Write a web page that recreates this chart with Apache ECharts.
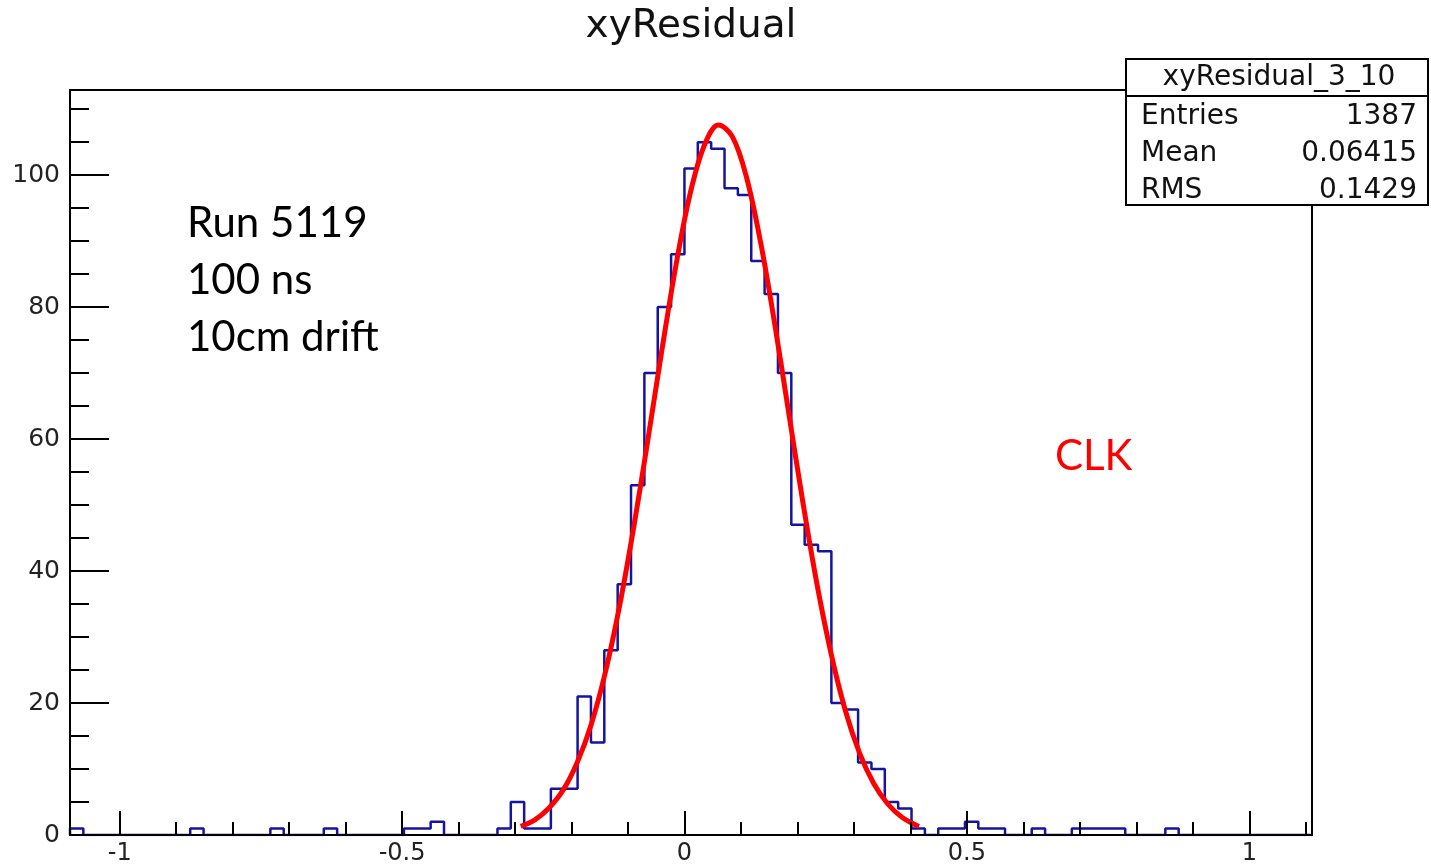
<!DOCTYPE html>
<html><head><meta charset="utf-8">
<script src="https://cdn.jsdelivr.net/npm/echarts@6/dist/echarts.min.js"></script>
<style>html,body{margin:0;padding:0;background:#fff}#c{width:1431px;height:867px}</style>
</head><body><div id="c"></div>
<script>
// ---- data ----
const xMin = -1.088, xMax = 1.111;
const yMin = 0, yMax = 112.9;
const binStart = -1.088;
const binWidth = 0.02365;
const counts = [
  1,0,0,0,0,0,0,0,0,1,
  0,0,0,0,0,1,0,0,0,1,
  0,0,0,0,0,1,1,2,0,0,
  0,0,1,5,1,1,7,7,21,14,
  28,38,53,70,80,88,101,105,104,98,
  97,87,82,70,47,44,43,20,19,11,
  10,5,4,1,0,1,1,2,1,1,
  0,0,1,0,0,1,1,1,1,0,
  0,0,1,0,0,0,0,0,0,0,
  0,0,0
];
const fitX = [-0.29,-0.265,-0.24,-0.215,-0.19,-0.165,-0.14,-0.115,-0.09,-0.065,-0.04,-0.015,0.01,0.035,0.06,0.085,0.11,0.135,0.16,0.185,0.21,0.235,0.26,0.285,0.31,0.335,0.36,0.385,0.415];
const fitY = [1.3,2.3,4.1,6.8,11.0,16.8,24.7,34.7,46.6,59.8,73.5,86.4,97.2,104.5,107.6,105.8,99.6,89.7,77.3,63.7,50.2,37.8,27.3,18.8,12.4,7.8,4.7,2.7,1.3];
const xMajorTicks = [-1,-0.5,0,0.5,1];
const xMinorTicks = [-1,-0.9,-0.8,-0.7,-0.6,-0.5,-0.4,-0.3,-0.2,-0.1,0,0.1,0.2,0.3,0.4,0.5,0.6,0.7,0.8,0.9,1,1.1];
const yMajorTicks = [0,20,40,60,80,100];
const yMinorTicks = [0,5,10,15,20,25,30,35,40,45,50,55,60,65,70,75,80,85,90,95,100,105,110];
const titleText = 'xyResidual';
const statTitle = 'xyResidual_3_10';
const statRows = [['Entries','1387'],['Mean','0.06415'],['RMS','0.1429']];
const noteLines = ['Run 5119','100 ns','10cm drift'];
const noteRed = 'CLK';

// ---- build ----
const histPts = [[binStart, 0]];
counts.forEach((c, i) => {
  const lo = binStart + i * binWidth, hi = lo + binWidth;
  histPts.push([lo, c], [hi, c]);
});
histPts.push([binStart + counts.length * binWidth, 0]);
const fitPts = fitX.map((x, i) => [x, fitY[i]]);

const ROOTFONT = 'DejaVu Sans';
const fmt = v => String(v);

const chart = echarts.init(document.getElementById('c'), null, {renderer: 'canvas'});
chart.setOption({
  animation: false,
  backgroundColor: '#fff',
  grid: {left: 70, right: 119, top: 90, bottom: 32, show: true, borderColor: '#000', borderWidth: 2, backgroundColor: 'transparent'},
  xAxis: [
    {type: 'value', min: xMin, max: xMax, position: 'bottom', z: 5,
     axisLine: {show: true, onZero: false, lineStyle: {color: '#000', width: 2}},
     axisTick: {show: true, inside: true, length: 24, customValues: xMajorTicks, lineStyle: {color: '#000', width: 2}},
     axisLabel: {show: true, customValues: xMajorTicks, formatter: fmt, fontFamily: ROOTFONT, fontSize: 24, color: '#222', margin: 7},
     splitLine: {show: false}},
    {type: 'value', min: xMin, max: xMax, position: 'bottom', z: 5,
     axisLine: {show: false, onZero: false},
     axisTick: {show: true, inside: true, length: 13, customValues: xMinorTicks, lineStyle: {color: '#000', width: 2}},
     axisLabel: {show: false},
     splitLine: {show: false}}
  ],
  yAxis: [
    {type: 'value', min: yMin, max: yMax, position: 'left', z: 5,
     axisLine: {show: true, onZero: false, lineStyle: {color: '#000', width: 2}},
     axisTick: {show: true, inside: true, length: 39, customValues: yMajorTicks, lineStyle: {color: '#000', width: 2}},
     axisLabel: {show: true, customValues: yMajorTicks, formatter: fmt, fontFamily: ROOTFONT, fontSize: 25, color: '#222', margin: 10},
     splitLine: {show: false}},
    {type: 'value', min: yMin, max: yMax, position: 'left', z: 5,
     axisLine: {show: false, onZero: false},
     axisTick: {show: true, inside: true, length: 19, customValues: yMinorTicks, lineStyle: {color: '#000', width: 2}},
     axisLabel: {show: false},
     splitLine: {show: false}}
  ],
  series: [
    {type: 'line', name: 'hist', xAxisIndex: 0, yAxisIndex: 0, data: histPts, symbol: 'none', showSymbol: false,
     clip: true, z: 2, lineStyle: {color: '#1414a0', width: 2.5}, emphasis: {disabled: true}},
    {type: 'line', name: 'fit', xAxisIndex: 0, yAxisIndex: 0, data: fitPts, symbol: 'none', showSymbol: false,
     smooth: 0.35, clip: true, z: 3, lineStyle: {color: '#ff0000', width: 5}, emphasis: {disabled: true}}
  ],
  graphic: [
    {type: 'text', x: 691, y: 27, z: 10, style: {text: titleText, font: '39px "DejaVu Sans"', fill: '#111', align: 'center', verticalAlign: 'middle'}},
    {type: 'rect', z: 10, shape: {x: 1126, y: 59, width: 302, height: 146}, style: {fill: '#fff', stroke: '#000', lineWidth: 2}},
    {type: 'line', z: 11, shape: {x1: 1126, y1: 96, x2: 1428, y2: 96}, style: {stroke: '#000', lineWidth: 2}},
    {type: 'text', x: 1279, y: 77.5, z: 12, style: {text: statTitle, font: '28px "DejaVu Sans"', fill: '#111', align: 'center', verticalAlign: 'middle'}},
    {type: 'text', x: 1141, y: 116.5, z: 12, style: {text: statRows[0][0], font: '28px "DejaVu Sans"', fill: '#111', align: 'left', verticalAlign: 'middle'}},
    {type: 'text', x: 1417, y: 116.5, z: 12, style: {text: statRows[0][1], font: '28px "DejaVu Sans"', fill: '#111', align: 'right', verticalAlign: 'middle'}},
    {type: 'text', x: 1141, y: 154, z: 12, style: {text: statRows[1][0], font: '28px "DejaVu Sans"', fill: '#111', align: 'left', verticalAlign: 'middle'}},
    {type: 'text', x: 1417, y: 154, z: 12, style: {text: statRows[1][1], font: '28px "DejaVu Sans"', fill: '#111', align: 'right', verticalAlign: 'middle'}},
    {type: 'text', x: 1141, y: 191, z: 12, style: {text: statRows[2][0], font: '28px "DejaVu Sans"', fill: '#111', align: 'left', verticalAlign: 'middle'}},
    {type: 'text', x: 1417, y: 191, z: 12, style: {text: statRows[2][1], font: '28px "DejaVu Sans"', fill: '#111', align: 'right', verticalAlign: 'middle'}},
    {type: 'text', x: 187, y: 223, z: 12, style: {text: noteLines[0], font: '42px Lato', fill: '#000', align: 'left', verticalAlign: 'middle'}},
    {type: 'text', x: 187, y: 280, z: 12, style: {text: noteLines[1], font: '42px Lato', fill: '#000', align: 'left', verticalAlign: 'middle'}},
    {type: 'text', x: 187, y: 337, z: 12, style: {text: noteLines[2], font: '42px Lato', fill: '#000', align: 'left', verticalAlign: 'middle'}},
    {type: 'text', x: 1055, y: 456, z: 12, style: {text: noteRed, font: '42px Lato', fill: '#ff0000', align: 'left', verticalAlign: 'middle'}}
  ]
});
</script></body></html>
